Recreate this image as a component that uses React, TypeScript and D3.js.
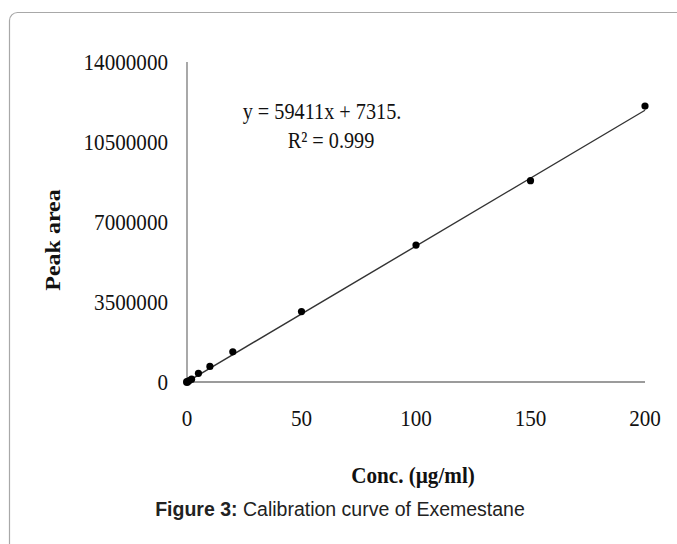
import React from "react";
import * as d3 from "d3";

const concentrations = [0.5, 1, 2, 5, 10, 20, 50, 100, 150, 200];
const peakAreas = [30000, 62000, 125000, 380000, 680000, 1320000, 3080000, 5990000, 8810000, 12070000];
const xTicks = [0, 50, 100, 150, 200];
const yTicks = [0, 3500000, 7000000, 10500000, 14000000];
const slope = 59411;
const intercept = 7315;
const equationLines = ["y = 59411x + 7315.", "R² = 0.999"];

const W = 677;
const H = 544;
const SX = 0.88;

function ST(props: {
  x: number;
  y: number;
  anchor?: string;
  size: number;
  bold?: boolean;
  rotate?: number;
  children: React.ReactNode;
  dy?: string;
}) {
  const { x, y, anchor = "middle", size, bold, rotate = 0, children, dy } = props;
  const tf = rotate
    ? `translate(${x},${y}) rotate(${rotate}) scale(1,${SX})`
    : `translate(${x},${y}) scale(${SX},1)`;
  return (
    <text
      transform={tf}
      dy={dy}
      textAnchor={anchor}
      fontFamily="'Liberation Serif', 'Times New Roman', serif"
      fontWeight={bold ? "bold" : "normal"}
      fontSize={size}
      fill="#111"
    >
      {children}
    </text>
  );
}

export default function App() {
  const x = d3.scaleLinear().domain([0, 200]).range([187, 645]);
  const y = d3.scaleLinear().domain([0, 14000000]).range([382, 62]);
  const line = d3
    .line<number>()
    .x((d) => x(d))
    .y((d) => y(slope * d + intercept));
  const sans = "'Liberation Sans', Arial, sans-serif";

  return (
    <svg
      width={W}
      height={H}
      style={{ position: "absolute", left: 0, top: 0, background: "#fff" }}
    >
      <rect x={9.5} y={12.5} width={720} height={600} rx={8} fill="#fff" stroke="#a8a8a8" strokeWidth={1.2} />
      <line x1={x(0)} x2={x(0)} y1={y(14000000)} y2={y(0)} stroke="#7a7a7a" strokeWidth={1.3} />
      <line x1={x(0)} x2={x(200)} y1={y(0)} y2={y(0)} stroke="#7a7a7a" strokeWidth={1.3} />
      {yTicks.map((t) => (
        <ST key={"y" + t} x={168} y={y(t)} dy="0.35em" anchor="end" size={24}>
          {t}
        </ST>
      ))}
      {xTicks.map((t) => (
        <ST key={"x" + t} x={x(t)} y={426} size={24}>
          {t}
        </ST>
      ))}
      <path d={line([0, 200]) || ""} fill="none" stroke="#333" strokeWidth={1.4} />
      {concentrations.map((c, i) => (
        <circle key={i} cx={x(c)} cy={y(peakAreas[i])} r={3.6} fill="#000" />
      ))}
      <circle cx={x(0)} cy={y(0)} r={4} fill="#000" />
      <ST x={322} y={119} size={23}>
        {equationLines[0]}
      </ST>
      <ST x={331} y={148} size={23}>
        {equationLines[1]}
      </ST>
      <ST x={60} y={240} size={24} bold rotate={-90}>
        Peak area
      </ST>
      <ST x={413} y={483} size={24} bold>
        Conc. (µg/ml)
      </ST>
      <text x={340} y={516} textAnchor="middle" fontFamily={sans} fontSize={19.5} fill="#222">
        <tspan fontWeight="bold">Figure 3:</tspan> Calibration curve of Exemestane
      </text>
    </svg>
  );
}
